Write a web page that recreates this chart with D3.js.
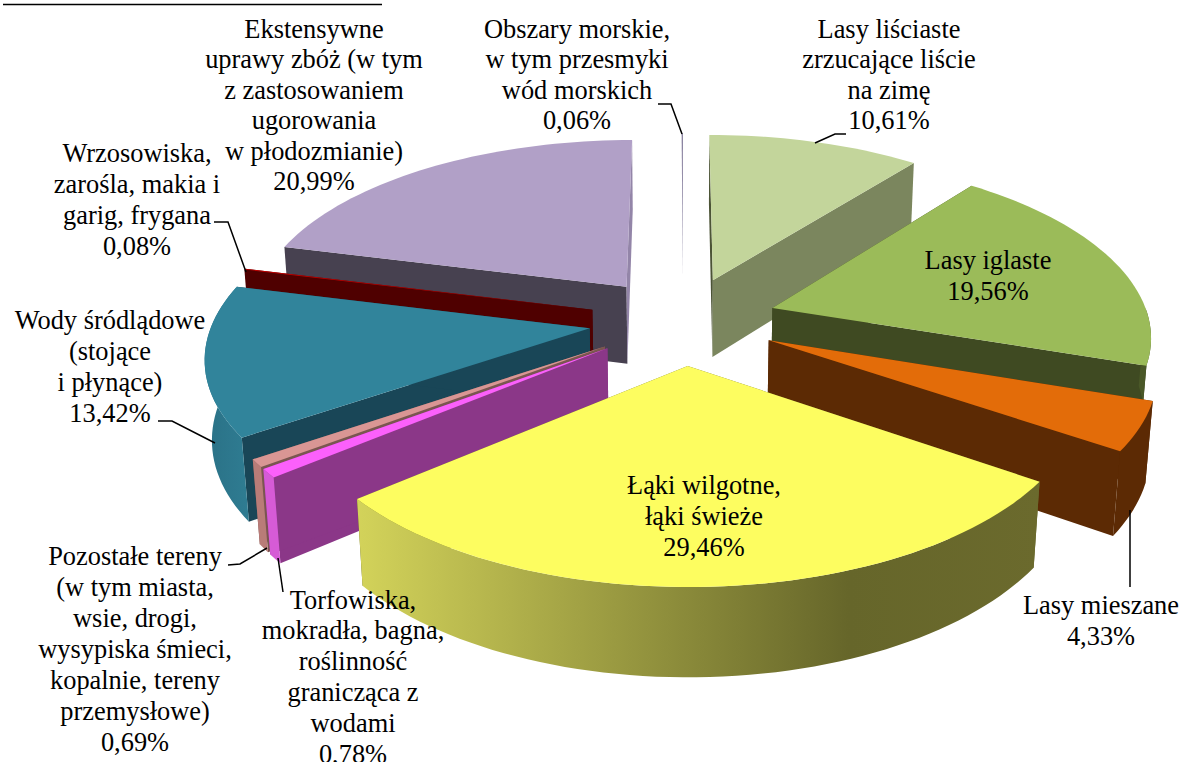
<!DOCTYPE html>
<html>
<head>
<meta charset="utf-8">
<script src="https://cdn.jsdelivr.net/npm/d3@7"></script>
<style>
html, body { margin: 0; padding: 0; background: #fff; }
svg { display: block; }
text { font-family: "Liberation Serif", serif; font-size: 26.4px; fill: #000; text-anchor: middle; }
.leader { fill: none; stroke: #000; stroke-width: 1.5; }
</style>
</head>
<body>
<script>
//values, clockwise from 12 o'clock
var categories = ["Lasy liściaste", "Lasy iglaste", "Lasy mieszane", "Łąki", "Torfowiska", "Pozostałe tereny", "Wody śródlądowe", "Wrzosowiska", "Ekstensywne uprawy", "Obszary morskie"];
var shares = [10.61, 19.56, 4.33, 29.46, 0.78, 0.69, 13.42, 0.08, 20.99, 0.06];

//label texts, same order as above
var labelTexts = [
    ["Lasy liściaste", "zrzucające liście", "na zimę", "10,61%"],
    ["Lasy iglaste", "19,56%"],
    ["Lasy mieszane", "4,33%"],
    ["Łąki wilgotne,", "łąki świeże", "29,46%"],
    ["Torfowiska,", "mokradła, bagna,", "roślinność", "granicząca z", "wodami", "0,78%"],
    ["Pozostałe tereny", "(w tym miasta,", "wsie, drogi,", "wysypiska śmieci,", "kopalnie, tereny", "przemysłowe)", "0,69%"],
    ["Wody śródlądowe", "(stojące", "i płynące)", "13,42%"],
    ["Wrzosowiska,", "zarośla, makia i", "garig, frygana", "0,08%"],
    ["Ekstensywne", "uprawy zbóż (w tym", "z zastosowaniem", "ugorowania", "w płodozmianie)", "20,99%"],
    ["Obszary morskie,", "w tym przesmyki", "wód morskich", "0,06%"]
];

//slice colours: top surface, straight sides, outer wall (first to last stop)
var topColours = ["#c3d59b", "#9bbb59", "#e36c09", "#fdfd60", "#fb60fb", "#d99694", "#31849b", "#c00000", "#b1a0c7", "#7d7596"];
var startSideColours = ["#4c5436", "#3f4a22", "#5c2a04", "#66662a", "#8b3788", "#7a5650", "#194657", "#4f0000", "#474150", "none"];
var endSideColours = ["#7b865e", "#3f4a22", "#5c2a04", "#66662a", "#8b3788", "#7a5650", "#194657", "#4f0000", "#9385a8", "none"];
var wallColours = [["#7b865e"], ["#4a5828"], ["#5c2a04"], ["#d3d35a", "#66662a", "#6b6a2d"], ["#d65bd6"], ["#b97c78"], ["#2a7186", "#2f7c92"], ["#4f0000"], ["#474150"], ["#3c3848"]];

//label placement: centre x, baseline of first line, line step
var labelLayout = [
    {x: 889, y: 38, dy: 30.3},
    {x: 988, y: 269, dy: 31},
    {x: 1101, y: 614, dy: 31},
    {x: 704, y: 494, dy: 31},
    {x: 353, y: 608.5, dy: 30.8},
    {x: 135, y: 565, dy: 31},
    {x: 110, y: 329, dy: 31},
    {x: 137, y: 162, dy: 31},
    {x: 314, y: 38, dy: 30.4},
    {x: 577, y: 38, dy: 30.4}
];

//leader lines and the cut off caption rule
var leaders = [
    [[815, 143], [835, 134], [846, 134]],
    [[658, 104], [671, 104], [682, 134]],
    [[214, 222], [228, 222], [246, 272]],
    [[158, 421], [172, 421], [215, 443]],
    [[228, 565], [240, 564], [267, 548]],
    [[278, 558], [283, 592]],
    [[1130, 510], [1130, 587]]
];
var captionRule = [[3, 4.5], [382, 4.5]];

var width = 1181,
    height = 762;

//perspective of the 3d pie, ground unit = one pie radius
var centreX = 683,
    centreY = 320.4,
    scaleX = 376.8,
    scaleY = 176,
    depthScale = 79.9,
    perspY = 0.14,
    perspZ = 0.015,
    explode = 0.25;

var svg = d3.select("body")
    .append("svg")
    .attr("width", width)
    .attr("height", height);

var defs = svg.append("defs");
var line = d3.line();

//ground point (x right, y to the viewer, z down) to screen
function project(x, y, z){
    var d = 1 - perspY * y + perspZ * z;
    return [centreX + scaleX * x / d, centreY + (scaleY * y + depthScale * z) / d];
}

var slices = d3.pie().sort(null).value(function(d){ return d; })(shares);

slices.forEach(function(s, i){
    var mid = (s.startAngle + s.endAngle) / 2;
    s.index2 = i;
    s.ox = explode * Math.sin(mid);
    s.oy = -explode * Math.cos(mid);
});

function rim(s, a, z){
    return project(s.ox + Math.sin(a), s.oy - Math.cos(a), z);
}

//arc angles from a0 to a1 in small steps
function arcAngles(a0, a1){
    var n = Math.max(1, Math.ceil((a1 - a0) / 0.03));
    return d3.range(n + 1).map(function(k){ return a0 + (a1 - a0) * k / n; });
}

function drawSlice(g, s){
    var i = s.index2,
        apexTop = project(s.ox, s.oy, 0),
        apexBottom = project(s.ox, s.oy, 1);

    //straight sides first, they sit behind the wall and the top
    [[s.startAngle, startSideColours[i]], [s.endAngle, endSideColours[i]]].forEach(function(side){
        g.append("path")
            .attr("d", line([apexTop, rim(s, side[0], 0), rim(s, side[0], 1), apexBottom]) + "Z")
            .attr("fill", side[1]);
    });

    //outer wall, only the part turned to the viewer
    var a0 = Math.max(s.startAngle, Math.PI / 2),
        a1 = Math.min(s.endAngle, Math.PI * 3 / 2 + 0.24);
    if (a1 > a0){
        var angles = arcAngles(a0, a1),
            upper = angles.map(function(a){ return rim(s, a, 0); }),
            lower = angles.map(function(a){ return rim(s, a, 1); }).reverse(),
            fill = wallColours[i][0];

        if (wallColours[i].length > 1){
            var xs = upper.concat(lower).map(function(p){ return p[0]; });
            var grad = defs.append("linearGradient")
                .attr("id", "wall" + i)
                .attr("gradientUnits", "userSpaceOnUse")
                .attr("x1", d3.min(xs)).attr("y1", 0)
                .attr("x2", d3.max(xs)).attr("y2", 0);
            var stopAt = wallColours[i].length == 3 ? [0, 0.72, 1] : [0, 1];
            wallColours[i].forEach(function(c, k){
                grad.append("stop").attr("offset", stopAt[k]).attr("stop-color", c);
            });
            fill = "url(#wall" + i + ")";
        }

        g.append("path")
            .attr("d", line(upper.concat(lower)) + "Z")
            .attr("fill", fill);
    }

    //top surface
    var outline = [apexTop].concat(arcAngles(s.startAngle, s.endAngle).map(function(a){ return rim(s, a, 0); }));
    g.append("path")
        .attr("d", line(outline) + "Z")
        .attr("fill", topColours[i]);
}

//paint from the far slices to the near ones
var order = slices.slice().sort(function(a, b){ return d3.ascending(a.oy, b.oy); });

order.forEach(function(s){
    drawSlice(svg.append("g").attr("class", "slice").attr("data-name", categories[s.index2]), s);
});

//leader lines
svg.selectAll(".leader")
    .data(leaders)
    .enter()
    .append("path")
    .attr("class", "leader")
    .attr("d", function(d){ return line(d); });

svg.append("path")
    .attr("class", "leader")
    .attr("d", line(captionRule));

//labels
labelTexts.forEach(function(lines, i){
    var t = svg.append("text");
    lines.forEach(function(txt, k){
        t.append("tspan")
            .attr("x", labelLayout[i].x)
            .attr("y", labelLayout[i].y + k * labelLayout[i].dy)
            .text(txt);
    });
});
</script>
</body>
</html>
